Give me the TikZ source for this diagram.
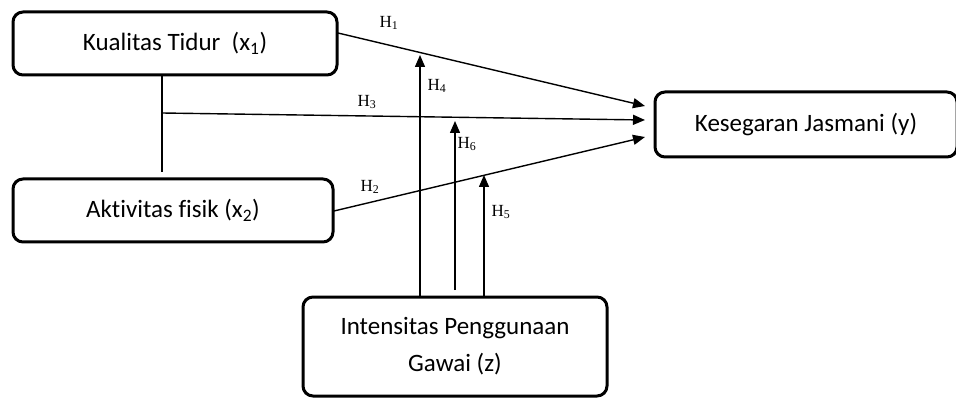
\documentclass[tikz,border=0pt]{standalone}
\usepackage{fontspec}
\setmainfont{Carlito}[Ligatures=NoCommon]
\newfontfamily\hfont{Liberation Serif}
\usetikzlibrary{arrows.meta}
\tikzset{
  varbox/.style={draw, line width=3pt, rounded corners=10pt, inner sep=0pt,
                 align=center, font=\fontsize{25}{37}\selectfont},
  link/.style={line width=1.4pt},
  path arrow/.style={link, -{Triangle[length=12pt,width=10pt]}},
  hyp/.style={font=\hfont\fontsize{17}{19}\selectfont, inner sep=1pt}
}
\begin{document}
\begin{tikzpicture}[x=1pt,y=-1pt]
\useasboundingbox (0,0) rectangle (956,398);

% variable boxes
\node[varbox, minimum width=324pt, minimum height=63pt] (x1) at (175,43.5) {Kualitas Tidur\ \ (x\textsubscript{1})};
\node[varbox, minimum width=320pt, minimum height=63pt] (x2) at (173,210.5) {Aktivitas fisik (x\textsubscript{2})};
\node[varbox, minimum width=302pt, minimum height=65pt] (y) at (806,124.5) {Kesegaran Jasmani (y)};
\node[varbox, minimum width=304pt, minimum height=99pt] (z) at (455,346.5) {Intensitas Penggunaan\\Gawai (z)};

% connector ends
\coordinate (h1s) at (338,33);
\coordinate (h2s) at (334,211);
\coordinate (x1b) at (162,75);
\coordinate (x2t) at (162,172);
\coordinate (h3s) at (162,113);
\coordinate (t1) at (645,106);
\coordinate (t3) at (645,120);
\coordinate (t2) at (645,137);
\coordinate (z1) at (420,297);
\coordinate (z2) at (455,290);
\coordinate (z3) at (484,297);
\coordinate (m4) at (420,55);
\coordinate (m6) at (455,121);
\coordinate (m5) at (484,175);

% direct paths
\draw[link] (x1b) -- (x2t);
\draw[path arrow] (h1s) -- (t1);
\draw[path arrow] (h3s) -- (t3);
\draw[path arrow] (h2s) -- (t2);

% moderation paths
\draw[path arrow] (z1) -- (m4);
\draw[path arrow] (z2) -- (m6);
\draw[path arrow] (z3) -- (m5);

% hypothesis labels
\node[hyp] (lh1) at (389,23) {H\textsubscript{1}};
\node[hyp] (lh4) at (437,86) {H\textsubscript{4}};
\node[hyp] (lh3) at (367,102) {H\textsubscript{3}};
\node[hyp] (lh6) at (467,144) {H\textsubscript{6}};
\node[hyp] (lh2) at (370,187) {H\textsubscript{2}};
\node[hyp] (lh5) at (501,212) {H\textsubscript{5}};
\end{tikzpicture}
\end{document}
